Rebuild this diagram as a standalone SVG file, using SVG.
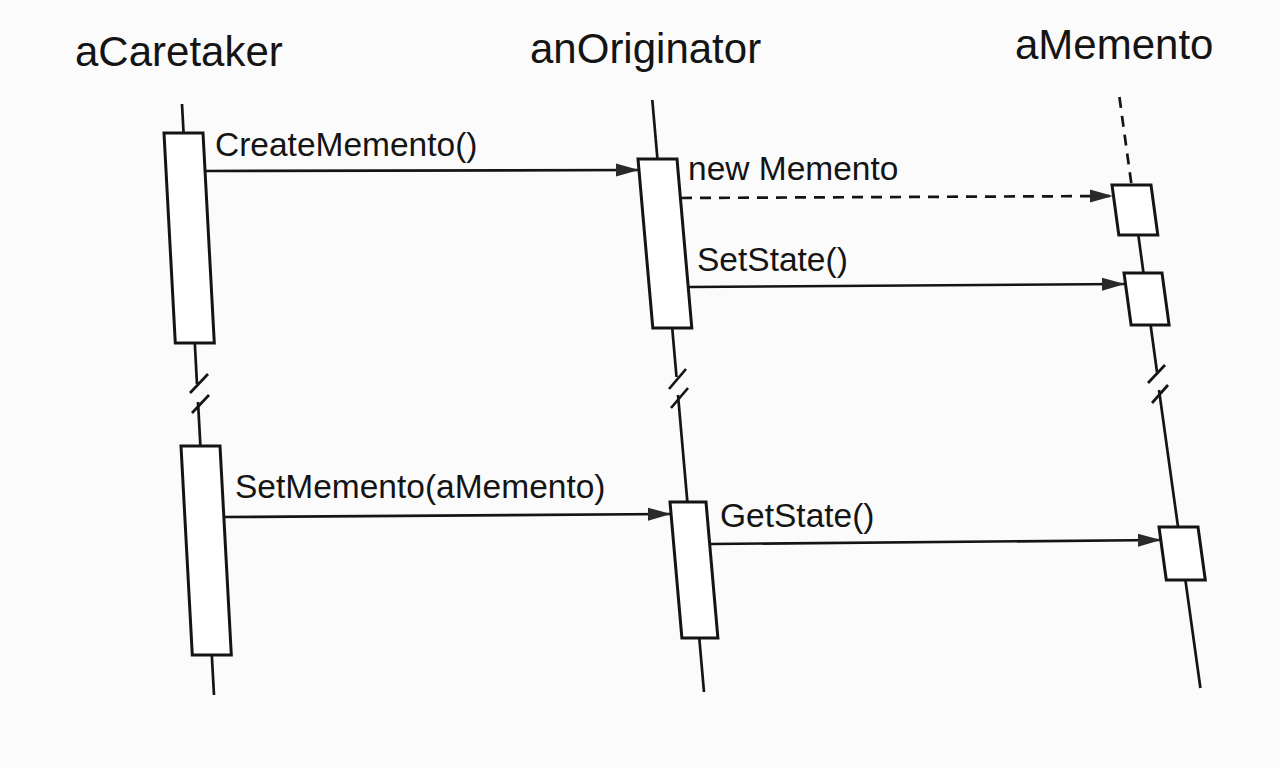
<svg xmlns="http://www.w3.org/2000/svg" width="1280" height="768" viewBox="0 0 1280 768">
<style>
.t{font-family:"Liberation Sans",Arial,sans-serif;fill:#141414}
.title{font-size:42px}
.lbl{font-size:33.5px}
.ll{stroke:#141414;stroke-width:2.7;fill:none}
.box{stroke:#141414;stroke-width:3;fill:#ffffff}
.msg{stroke:#141414;stroke-width:2.7;fill:none;marker-end:url(#ah)}
.dash{stroke-dasharray:11 8}
</style>
<defs>
<marker id="ah" markerUnits="userSpaceOnUse" markerWidth="24" markerHeight="16" refX="23" refY="8" orient="auto">
<path d="M0,1.5 L23,8 L0,14.5 z" fill="#2a2a2a"/>
</marker>
</defs>
<rect width="1280" height="768" fill="#fcfbfb"/>
<g id="aCaretaker">
<text class="t title" x="75" y="66">aCaretaker</text>
<line class="ll" x1="182" y1="104" x2="197" y2="384"/>
<line class="ll" x1="198" y1="402" x2="214" y2="695"/>
<line class="ll" x1="190" y1="393" x2="208" y2="374"/>
<line class="ll" x1="192" y1="413" x2="209" y2="395"/>
<polygon class="box" points="164,133 203,133 214.3,343 175.3,343"/>
<polygon class="box" points="181,446 220,446 231.3,655 192.3,655"/>
</g>
<g id="anOriginator">
<text class="t title" x="530" y="63">anOriginator</text>
<line class="ll" x1="652.3" y1="100" x2="676.5" y2="377"/>
<line class="ll" x1="678" y1="395" x2="704" y2="692"/>
<line class="ll" x1="669" y1="389" x2="686" y2="369"/>
<line class="ll" x1="671" y1="408" x2="688" y2="388"/>
<polygon class="box" points="638,159 677,159 691.8,328 652.8,328"/>
<polygon class="box" points="670,502 706,502 717.9,638 681.9,638"/>
</g>
<g id="aMemento">
<text class="t title" x="1015" y="59">aMemento</text>
<line class="ll dash" x1="1119.4" y1="97" x2="1131.5" y2="185"/>
<line class="ll" x1="1131.5" y1="185" x2="1157" y2="372"/>
<line class="ll" x1="1159" y1="390" x2="1200.4" y2="688"/>
<line class="ll" x1="1148" y1="383" x2="1165" y2="365"/>
<line class="ll" x1="1152" y1="403" x2="1168" y2="385"/>
<polygon class="box" points="1112,185 1151,185 1157.8,235 1118.8,235"/>
<polygon class="box" points="1124,273 1162,273 1169.1,325 1131.1,325"/>
<polygon class="box" points="1159,527 1198,527 1205.3,580 1166.3,580"/>
</g>
<g id="connectors">
<line class="msg" x1="205" y1="171" x2="639" y2="170"/>
<line class="msg dash" x1="681" y1="198" x2="1113" y2="196"/>
<line class="msg" x1="689" y1="287" x2="1125" y2="284"/>
<line class="msg" x1="225" y1="517" x2="671" y2="514"/>
<line class="msg" x1="710" y1="544" x2="1161" y2="540"/>
<text class="t lbl" x="215" y="156">CreateMemento()</text>
<text class="t lbl" x="688" y="180">new Memento</text>
<text class="t lbl" x="697" y="271">SetState()</text>
<text class="t lbl" x="235" y="498">SetMemento(aMemento)</text>
<text class="t lbl" x="720" y="527">GetState()</text>
</g>
</svg>
